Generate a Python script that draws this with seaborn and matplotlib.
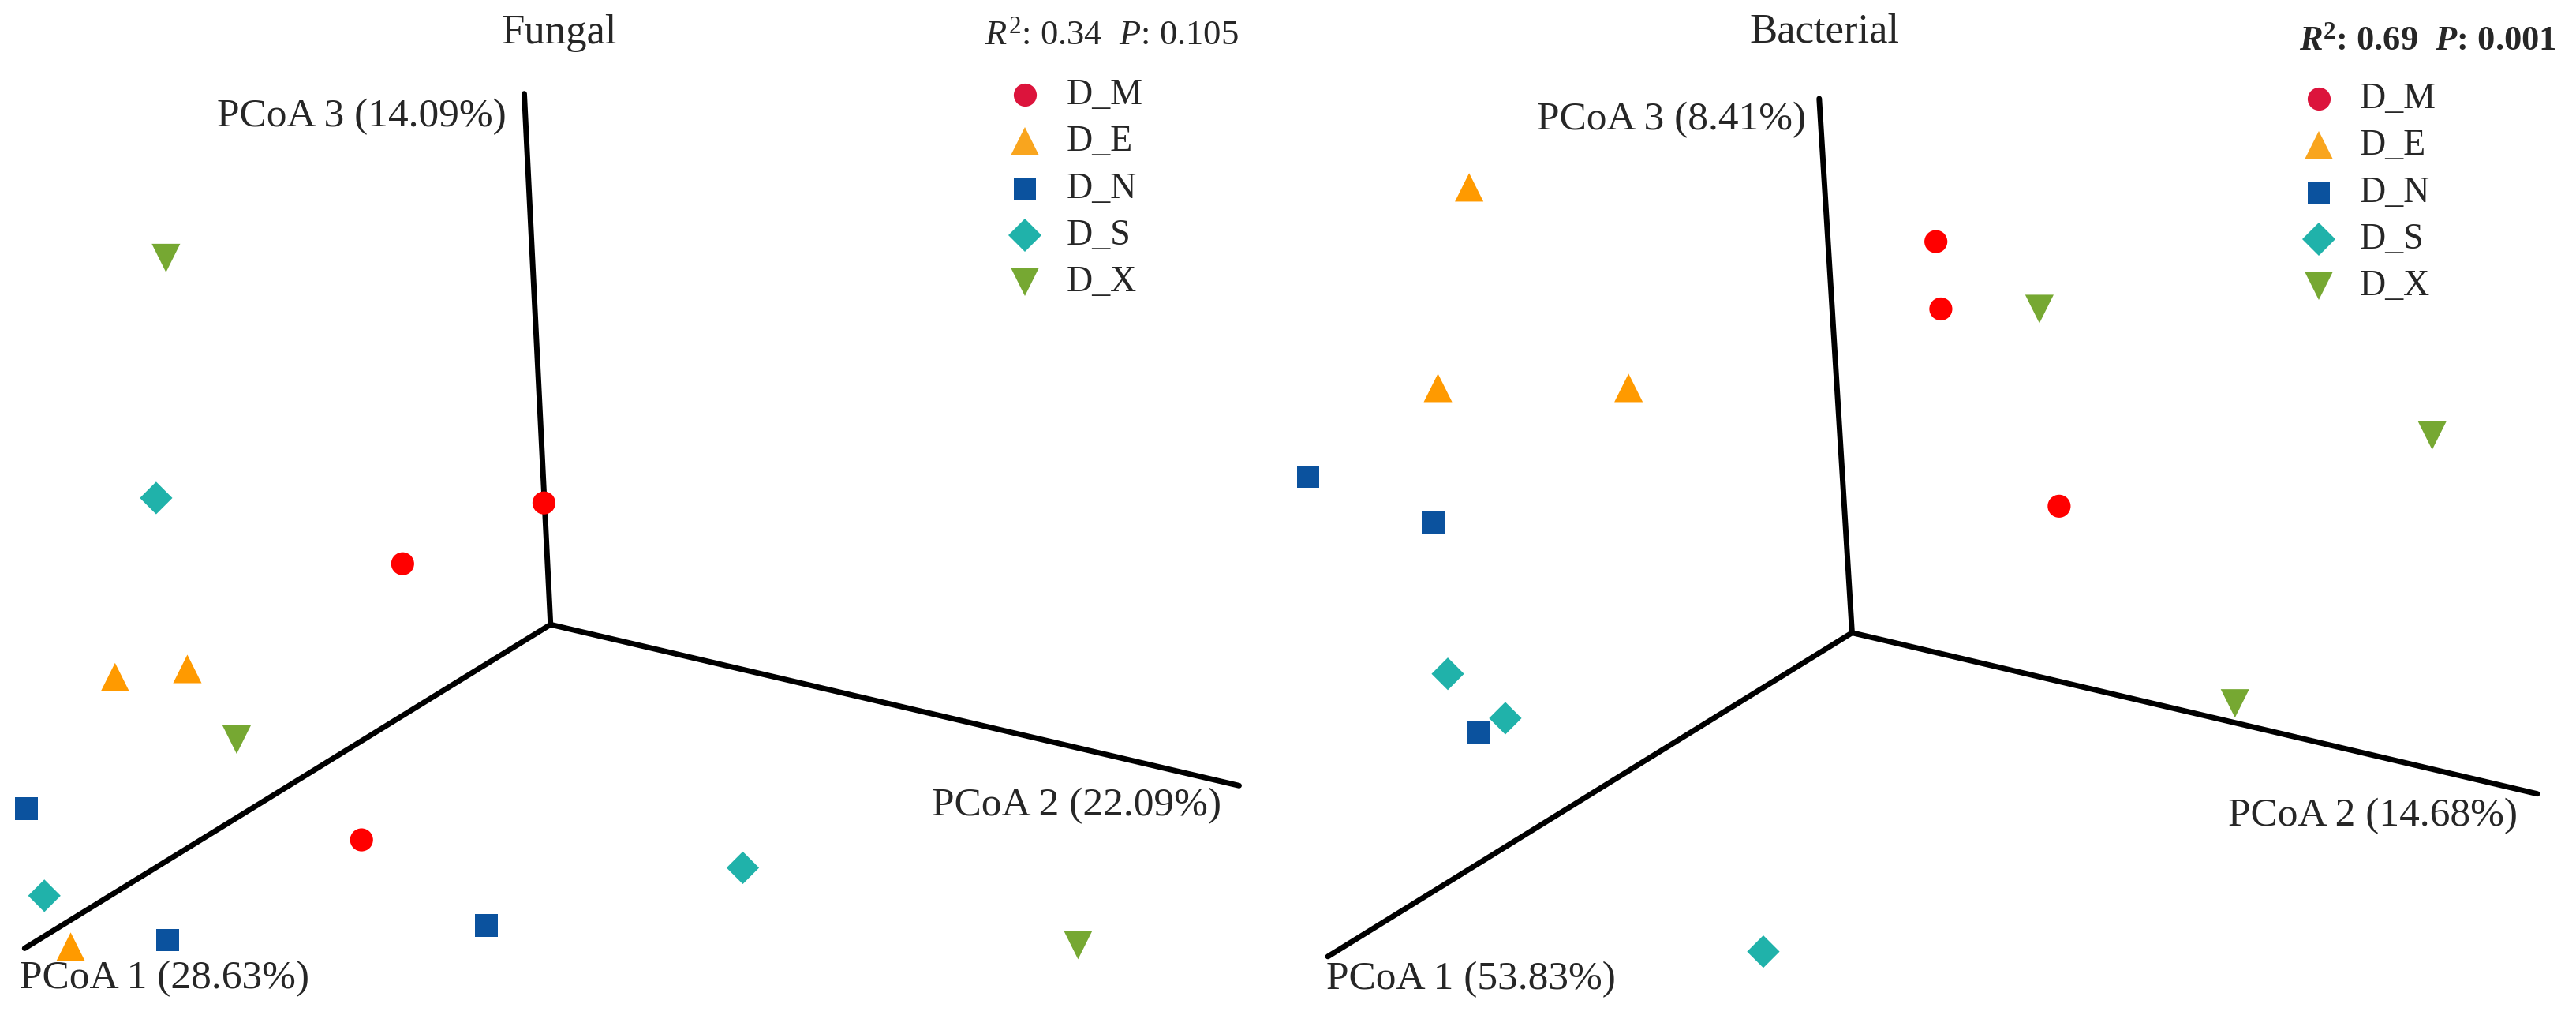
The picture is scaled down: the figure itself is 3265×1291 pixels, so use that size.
import pandas as pd
import seaborn as sns
import matplotlib.pyplot as plt

# projected PCoA positions, in picture units (each panel 784 x 620)
groups = ["D_M", "D_E", "D_N", "D_S", "D_X"]

fungal_x = {"D_M": [331, 245, 220], "D_E": [70, 114, 43], "D_N": [16, 102, 296],
            "D_S": [95, 27, 452], "D_X": [101, 144, 656]}
fungal_y = {"D_M": [306, 343, 511], "D_E": [412, 407, 576], "D_N": [492, 572, 563],
            "D_S": [303, 545, 528], "D_X": [157, 450, 575]}

bact_x = {"D_M": [1178, 1181, 1253], "D_E": [894, 875, 991], "D_N": [796, 872, 900],
          "D_S": [881, 916, 1073], "D_X": [1241, 1480, 1360]}
bact_y = {"D_M": [147, 188, 308], "D_E": [114, 236, 236], "D_N": [290, 318, 446],
          "D_S": [410, 437, 579], "D_X": [188, 265, 428]}

# axis lines: origin, PCoA1 end, PCoA2 end, PCoA3 end
fungal_axes = [(335, 380), (15, 577), (754, 478), (319, 57)]
bact_axes = [(1127, 385), (808, 582), (1544, 483), (1107, 60)]

fungal_labels = ["PCoA 1 (28.63%)", "PCoA 2 (22.09%)", "PCoA 3 (14.09%)"]
bact_labels = ["PCoA 1 (53.83%)", "PCoA 2 (14.68%)", "PCoA 3 (8.41%)"]

point_colors = {"D_M": "#FF0000", "D_E": "#FF9A00", "D_N": "#0B529E",
                "D_S": "#20B2AA", "D_X": "#76A832"}
legend_colors = {"D_M": "#DC143C", "D_E": "#F9A51E", "D_N": "#0B529E",
                 "D_S": "#20B2AA", "D_X": "#76A832"}
markers = {"D_M": "o", "D_E": "^", "D_N": "s", "D_S": "D", "D_X": "v"}
msize = {"D_M": 21, "D_E": 26, "D_N": 20.5, "D_S": 21, "D_X": 26}


def make_df(xs, ys):
    rows = []
    for g in groups:
        for x, y in zip(xs[g], ys[g]):
            rows.append({"x": x, "y": y, "group": g})
    return pd.DataFrame(rows)


sns.set_style("white")
plt.rcParams["font.family"] = ["Liberation Serif", "DejaVu Serif"]
plt.rcParams["mathtext.fontset"] = "custom"
plt.rcParams["mathtext.rm"] = "Liberation Serif"
plt.rcParams["mathtext.it"] = "Liberation Serif:italic"
plt.rcParams["mathtext.bf"] = "Liberation Serif:bold"
plt.rcParams["mathtext.bfit"] = "Liberation Serif:bold:italic"

fig = plt.figure(figsize=(32.66, 12.91), dpi=100)
ax1 = fig.add_axes([0, 0, 0.5, 1])
ax2 = fig.add_axes([0.5, 0, 0.5, 1])


def draw_panel(ax, df, axes_pts, labels, x0, layout):
    o, p1, p2, p3 = axes_pts
    for p in (p1, p2, p3):
        ax.plot([o[0], p[0]], [o[1], p[1]], color="black", lw=5,
                solid_capstyle="round", zorder=1)
    sns.scatterplot(data=df, x="x", y="y", hue="group", style="group",
                    palette=point_colors, markers=markers,
                    size="group", sizes={g: msize[g] ** 2 for g in groups},
                    linewidth=0, legend=False, ax=ax, zorder=3)
    ax.set_xlim(x0, x0 + 784)
    ax.set_ylim(620, 0)
    ax.axis("off")

    lab_fs = 37
    ax.text(layout["l1"][0], layout["l1"][1], labels[0], fontsize=lab_fs,
            ha="left", va="baseline")
    ax.text(layout["l2"][0], layout["l2"][1], labels[1], fontsize=lab_fs,
            ha="right", va="baseline")
    ax.text(layout["l3"][0], layout["l3"][1], labels[2], fontsize=lab_fs,
            ha="right", va="baseline")
    ax.text(layout["title"][0], layout["title"][1], layout["title_text"],
            fontsize=38, ha="center", va="baseline")
    ax.text(layout["stat"][0], layout["stat"][1], layout["stat_text"],
            fontsize=32, ha="right", va="baseline",
            fontweight="bold" if layout["bold"] else "normal")

    # legend
    mx, tx, ly, dy = layout["legend"]
    for i, g in enumerate(groups):
        ax.plot(mx, ly + i * dy, linestyle="", marker=markers[g],
                color=legend_colors[g], markersize=msize[g], markeredgewidth=0)
        ax.text(tx, ly + i * dy + 5.8, g, fontsize=33, ha="left", va="baseline")


fungal_layout = {
    "l1": (12, 601.5), "l2": (743, 496), "l3": (308, 77),
    "title": (340, 26.4), "title_text": "Fungal",
    "stat": (753.7, 27.2),
    "stat_text": r"$\mathit{R}^{2}$: 0.34  $\mathit{P}$: 0.105", "bold": False,
    "legend": (623.6, 649, 57.6, 28.5),
}
bact_layout = {
    "l1": (807, 602), "l2": (1532, 502.5), "l3": (1099, 79),
    "title": (1110, 25.6), "title_text": "Bacterial",
    "stat": (1555.5, 30.4),
    "stat_text": r"$\mathbfit{R}^{\mathbf{2}}$: 0.69  $\mathbfit{P}$: 0.001", "bold": True,
    "legend": (1411, 1436, 60, 28.5),
}

draw_panel(ax1, make_df(fungal_x, fungal_y), fungal_axes, fungal_labels, 0, fungal_layout)
draw_panel(ax2, make_df(bact_x, bact_y), bact_axes, bact_labels, 784, bact_layout)

fig.savefig("out.png", dpi=100)
